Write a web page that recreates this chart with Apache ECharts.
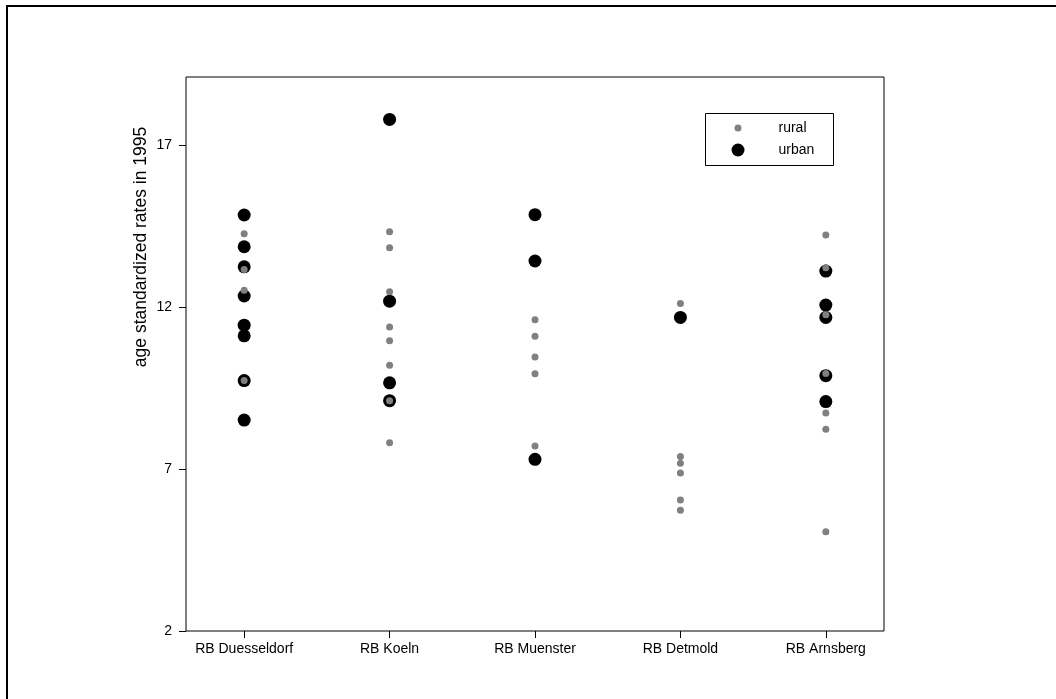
<!DOCTYPE html>
<html>
<head>
<meta charset="utf-8">
<script src="https://cdn.jsdelivr.net/npm/echarts@6/dist/echarts.min.js"></script>
<style>
  html, body { margin: 0; padding: 0; background: #fff; }
  #chart { width: 1056px; height: 699px; }
</style>
</head>
<body>
<div id="chart"></div>
<script>
// regions on the x axis
var regions = ['RB Duesseldorf', 'RB Koeln', 'RB Muenster', 'RB Detmold', 'RB Arnsberg'];
var yTicks = [2, 7, 12, 17];

// urban districts, one list per region
var urbanDuesseldorf = [14.84, 13.86, 13.24, 12.34, 11.44, 11.11, 9.73, 8.51];
var urbanKoeln = [17.79, 12.18, 9.66, 9.11];
var urbanMuenster = [14.85, 13.42, 7.30];
var urbanDetmold = [11.68];
var urbanArnsberg = [13.11, 12.06, 11.68, 9.88, 9.08];

// rural districts
var ruralDuesseldorf = [14.26, 13.16, 12.52, 9.73];
var ruralKoeln = [14.32, 13.83, 12.47, 11.38, 10.96, 10.20, 9.11, 7.81];
var ruralMuenster = [11.61, 11.10, 10.46, 9.94, 7.71];
var ruralDetmold = [12.11, 7.39, 7.18, 6.88, 6.04, 5.73];
var ruralArnsberg = [14.22, 13.21, 11.76, 9.95, 8.73, 8.23, 5.06];

var urban = [urbanDuesseldorf, urbanKoeln, urbanMuenster, urbanDetmold, urbanArnsberg];
var rural = [ruralDuesseldorf, ruralKoeln, ruralMuenster, ruralDetmold, ruralArnsberg];

function toPoints(groups) {
  var pts = [];
  groups.forEach(function (vals, i) {
    vals.forEach(function (v) { pts.push([i + 1, v]); });
  });
  return pts;
}

var font = 'Liberation Sans, Arial, sans-serif';
var chart = echarts.init(document.getElementById('chart'));

chart.setOption({
  animation: false,
  backgroundColor: '#fff',
  grid: {
    left: 186, right: 172, top: 77, bottom: 68,
    show: true, borderColor: '#000', borderWidth: 1
  },
  xAxis: {
    type: 'value', min: 0.6, max: 5.4,
    axisLine: { show: false },
    splitLine: { show: false },
    axisTick: { show: true, length: 7, lineStyle: { color: '#000' }, customValues: [1, 2, 3, 4, 5] },
    axisLabel: {
      color: '#000', fontFamily: font, fontSize: 14, margin: 11,
      customValues: [1, 2, 3, 4, 5],
      formatter: function (v) { return regions[Math.round(v) - 1] || ''; }
    }
  },
  yAxis: {
    type: 'value', min: 2, max: 19.1,
    axisLine: { show: false },
    splitLine: { show: false },
    axisTick: { show: true, length: 7, lineStyle: { color: '#000' }, customValues: yTicks },
    axisLabel: { color: '#000', fontFamily: font, fontSize: 14, margin: 14, customValues: yTicks }
  },
  legend: [{
    data: ['rural'], left: 734.5, top: 121, padding: 0,
    icon: 'circle', itemWidth: 7, itemHeight: 7,
    textStyle: { color: '#000', fontFamily: font, fontSize: 14, padding: [0, 0, 0, 32] }
  }, {
    data: ['urban'], left: 731.5, top: 143, padding: 0,
    icon: 'circle', itemWidth: 13, itemHeight: 13,
    textStyle: { color: '#000', fontFamily: font, fontSize: 14, padding: [0, 0, 0, 29] }
  }],
  graphic: [
    { type: 'rect', shape: { x: 7, y: 6, width: 1200, height: 900 },
      style: { fill: 'none', stroke: '#000', lineWidth: 2 }, silent: true },
    { type: 'rect', shape: { x: 705.5, y: 113.5, width: 128, height: 52 },
      style: { fill: 'none', stroke: '#000', lineWidth: 1 }, silent: true, z: 10 },
    { type: 'text', x: 141, y: 247, rotation: Math.PI / 2,
      style: { text: 'age standardized rates in 1995', fill: '#000', font: '17.5px ' + font,
               textAlign: 'center', textVerticalAlign: 'middle' } }
  ],
  series: [{
    name: 'urban', type: 'scatter', symbol: 'circle', symbolSize: 13,
    itemStyle: { color: '#000', opacity: 1 },
    data: toPoints(urban), z: 2
  }, {
    name: 'rural', type: 'scatter', symbol: 'circle', symbolSize: 7,
    itemStyle: { color: '#808080', opacity: 1 },
    data: toPoints(rural), z: 3
  }]
});
</script>
</body>
</html>
